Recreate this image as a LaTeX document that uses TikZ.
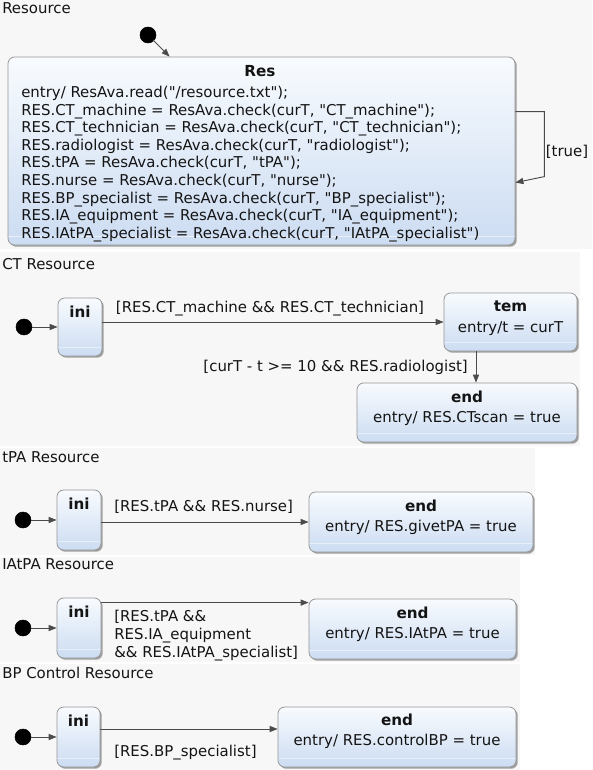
\documentclass[tikz,border=0pt]{standalone}
\usepackage{fontspec}
\setmainfont{DejaVu Sans}[Ligatures=TeXOff]
\usetikzlibrary{arrows.meta,shadows,calc}
\definecolor{panelbg}{RGB}{247,247,247}
\definecolor{sttop}{RGB}{248,251,254}
\definecolor{stbot}{RGB}{204,220,242}
\definecolor{stborder}{RGB}{150,150,150}
\definecolor{edgecol}{RGB}{75,75,75}
\definecolor{txtcol}{RGB}{20,20,20}
\newdimen\px \px=0.75pt
\tikzset{
  panel/.style={fill=panelbg, draw=none},
  stbox/.style={rectangle, rounded corners=5pt, draw=stborder, line width=0.6pt,
    top color=sttop, bottom color=stbot, inner sep=0pt,
    drop shadow={shadow xshift=1.3pt, shadow yshift=-1.3pt, fill=black, opacity=0.35},
    path picture={\draw[white!55!stbot, line width=0.7pt]
      ([yshift=6.75pt]path picture bounding box.south west) --
      ([yshift=6.75pt]path picture bounding box.south east);}},
  initdot/.style={circle, fill=black, draw=black, minimum size=16\px, inner sep=0pt},
  tr/.style={draw=edgecol, line width=0.7pt, -{Triangle[length=6pt,width=4.6pt]}},
  lbl/.style={font=\fontsize{11.2pt}{13.2pt}\selectfont, text=txtcol, inner sep=0pt},
  sttitle/.style={font=\fontsize{11.4pt}{13pt}\selectfont\bfseries, text=txtcol, inner sep=0pt},
}
\begin{document}
\begin{tikzpicture}[x=0.75pt, y=-0.75pt]
\useasboundingbox (0,0) rectangle (592,770);
% panels
\fill[white] (0,0) rectangle (592,770);
\path[panel] (0,0) rectangle (592,249);
\path[panel] (0,252) rectangle (580,446);
\path[panel] (0,448) rectangle (535,555);
\path[panel] (0,557) rectangle (520,662);
\path[panel] (0,664) rectangle (520,770);

% ---------------- Resource ----------------
\node[lbl, anchor=west] (tR) at (2,8) {Resource};
\node[initdot] (dR) at (148,35) {};
\node[stbox, minimum width=507\px, minimum height=188\px] (Res) at (261.5,151) {};
\node[sttitle] (ResT) at ($(Res.north)+(-1.5,14.5)$) {Res};
\node[lbl, anchor=west, align=left] (ResE) at (21,164) {entry/ ResAva.read("/resource.txt");\\
RES.CT\_machine = ResAva.check(curT, "CT\_machine");\\
RES.CT\_technician = ResAva.check(curT, "CT\_technician");\\
RES.radiologist = ResAva.check(curT, "radiologist");\\
RES.tPA = ResAva.check(curT, "tPA");\\
RES.nurse = ResAva.check(curT, "nurse");\\
RES.BP\_specialist = ResAva.check(curT, "BP\_specialist");\\
RES.IA\_equipment = ResAva.check(curT, "IA\_equipment");\\
RES.IAtPA\_specialist = ResAva.check(curT, "IAtPA\_specialist")};
\coordinate (Rin) at ($(Res.north west)+(162,0)$);
\draw[tr, shorten <=-1pt] (dR) -- (Rin);
\draw[tr] ($(Res.north east)+(0,55)$) -- ++(29,0) -- ++(0,65) -- ($(Res.north east)+(0,126)$);
\node[lbl] (lTrue) at (567,152) {[true]};

% ---------------- CT Resource ----------------
\node[lbl, anchor=west] (tCT) at (2,264) {CT Resource};
\node[initdot] (dCT) at (24,327) {};
\node[stbox, minimum width=44\px, minimum height=58\px] (iniCT) at (80,327) {};
\node[sttitle] (iniCTt) at ($(iniCT.north)+(0,14)$) {ini};
\node[stbox, minimum width=133\px, minimum height=58\px] (tem) at (510.5,322) {};
\node[sttitle] (temT) at ($(tem.north)+(0,14)$) {tem};
\node[lbl] (temE) at ($(tem.north)+(0,36)$) {entry/t = curT};
\node[stbox, minimum width=220\px, minimum height=59\px] (endCT) at (467,412.5) {};
\node[sttitle] (endCTt) at ($(endCT.north)+(0,14)$) {end};
\node[lbl] (endCTe) at ($(endCT.north)+(0,35.5)$) {entry/ RES.CTscan = true};
\draw[tr] (dCT) -- (iniCT);
\draw[tr] (iniCT.east |- tem.west) -- (tem.west);
\node[lbl] (lCT1) at (270,309) {[RES.CT\_machine \&\& RES.CT\_technician]};
\coordinate (temS) at ($(tem.south)+(-34.5,0)$);
\draw[tr] (temS) -- (temS |- endCT.north);
\node[lbl, anchor=east] (lCT2) at (468,367) {[curT - t >= 10 \&\& RES.radiologist]};

% ---------------- tPA Resource ----------------
\node[lbl, anchor=west] (tT) at (2,457) {tPA Resource};
\node[initdot] (dT) at (23,520) {};
\node[stbox, minimum width=44\px, minimum height=60\px] (iniT) at (79,520) {};
\node[sttitle] (iniTt) at ($(iniT.north)+(0,14)$) {ini};
\node[stbox, minimum width=224\px, minimum height=60\px] (endT) at (421,522) {};
\node[sttitle] (endTt) at ($(endT.north)+(0,14)$) {end};
\node[lbl] (endTe) at ($(endT.north)+(0,35.5)$) {entry/ RES.givetPA = true};
\draw[tr] (dT) -- (iniT);
\draw[tr] (iniT.east |- endT.west) -- (endT.west);
\node[lbl, anchor=west] (lT) at (114,507) {[RES.tPA \&\& RES.nurse]};

% ---------------- IAtPA Resource ----------------
\node[lbl, anchor=west] (tI) at (2,564) {IAtPA Resource};
\node[initdot] (dI) at (23,628) {};
\node[stbox, minimum width=44\px, minimum height=60\px] (iniI) at (79,628) {};
\node[sttitle] (iniIt) at ($(iniI.north)+(0,14)$) {ini};
\node[stbox, minimum width=207\px, minimum height=60\px] (endI) at (412.5,629) {};
\node[sttitle] (endIt) at ($(endI.north)+(0,14)$) {end};
\node[lbl] (endIe) at ($(endI.north)+(0,36)$) {entry/ RES.IAtPA = true};
\draw[tr] (dI) -- (iniI);
\draw[tr] ($(iniI.north east)+(0,5)$) -- ($(endI.north west)+(0,4)$);
\node[lbl, anchor=west, align=left] (lI) at (114,635.5) {[RES.tPA \&\&\\RES.IA\_equipment\\\&\& RES.IAtPA\_specialist]};

% ---------------- BP Control Resource ----------------
\node[lbl, anchor=west] (tB) at (2,673) {BP Control Resource};
\node[initdot] (dB) at (23,737) {};
\node[stbox, minimum width=43\px, minimum height=60\px] (iniB) at (78.5,737) {};
\node[sttitle] (iniBt) at ($(iniB.north)+(0,14)$) {ini};
\node[stbox, minimum width=238\px, minimum height=60\px] (endB) at (397,737) {};
\node[sttitle] (endBt) at ($(endB.north)+(0,13)$) {end};
\node[lbl] (endBe) at ($(endB.north)+(0,35)$) {entry/ RES.controlBP = true};
\draw[tr] (dB) -- (iniB);
\draw[tr] ($(iniB.east)+(0,-8)$) -- ($(endB.west)+(0,-8)$);
\node[lbl, anchor=west] (lB) at (114,753) {[RES.BP\_specialist]};
\end{tikzpicture}
\end{document}
